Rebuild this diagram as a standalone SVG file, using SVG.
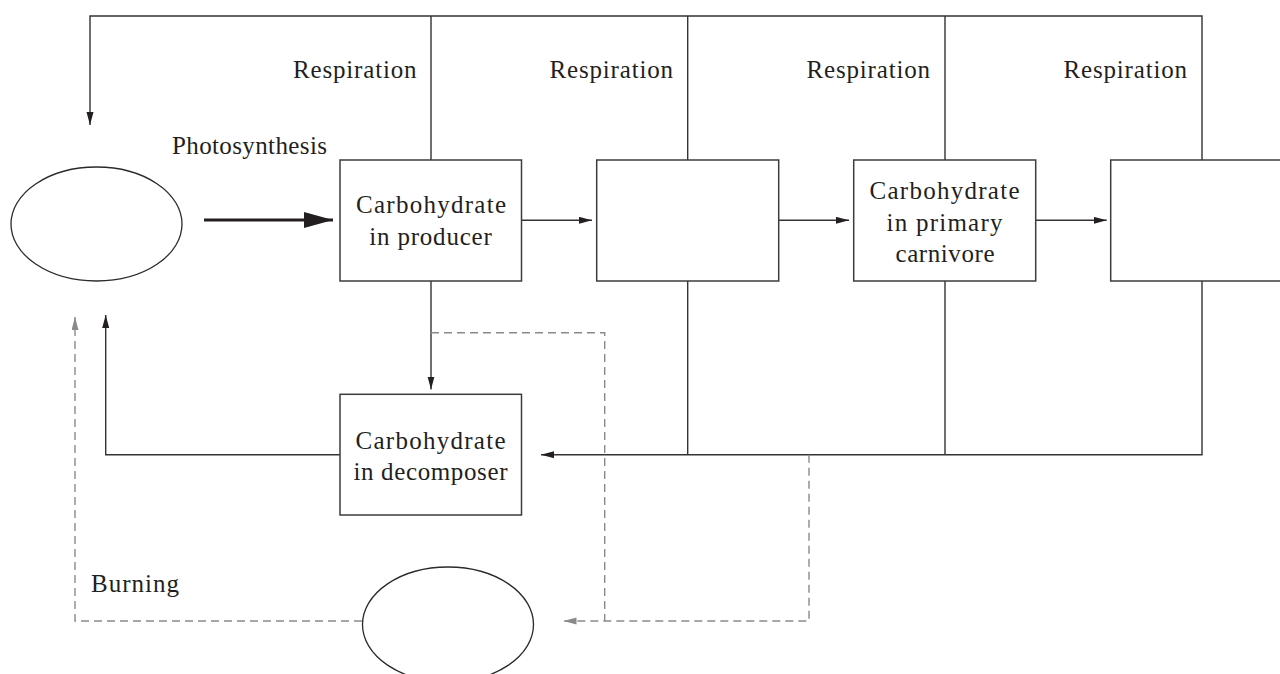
<svg xmlns="http://www.w3.org/2000/svg" width="1280" height="674" viewBox="0 0 1280 674">
  <defs>
    <style>
      .box { fill: #ffffff; stroke: #3c3c3c; stroke-width: 1.5; }
      .pool { fill: #ffffff; stroke: #2a2a2a; stroke-width: 1.3; }
      .line { fill: none; stroke: #333333; stroke-width: 1.4; }
      .thick { fill: none; stroke: #231f20; stroke-width: 3; }
      .dash { fill: none; stroke: #8a8a8a; stroke-width: 1.4; stroke-dasharray: 8 5; }
      .lbl { font-family: "Liberation Serif", "Times New Roman", serif; font-size: 25px; fill: #231f20; }
    </style>
    <marker id="arrow" markerUnits="userSpaceOnUse" markerWidth="14" markerHeight="8" refX="13" refY="3.5" orient="auto">
      <path d="M0,0 L13,3.5 L0,7 z" fill="#231f20"/>
    </marker>
    <marker id="arrowGrey" markerUnits="userSpaceOnUse" markerWidth="14" markerHeight="8" refX="13" refY="3.5" orient="auto">
      <path d="M0,0 L13,3.5 L0,7 z" fill="#8a8a8a"/>
    </marker>
    <marker id="arrowBig" markerUnits="userSpaceOnUse" markerWidth="30" markerHeight="17" refX="29" refY="8" orient="auto">
      <path d="M0,0 L29,8 L0,16 z" fill="#231f20"/>
    </marker>
  </defs>

  <!-- connectors -->
  <g id="connectors">
    <!-- respiration return along the top -->
    <path class="line" d="M1202,160 V16 H90 V125" marker-end="url(#arrow)"/>
    <path class="line" d="M431,160 V16"/>
    <path class="line" d="M687.7,160 V16"/>
    <path class="line" d="M945,160 V16"/>

    <!-- photosynthesis -->
    <path class="thick" d="M204,220 H333" marker-end="url(#arrowBig)"/>

    <!-- feeding chain -->
    <path class="line" d="M521.5,220.3 H592" marker-end="url(#arrow)"/>
    <path class="line" d="M779,220.3 H849" marker-end="url(#arrow)"/>
    <path class="line" d="M1036,220.3 H1106.7" marker-end="url(#arrow)"/>

    <!-- dead matter to decomposer -->
    <path class="line" d="M431,281 V389.5" marker-end="url(#arrow)"/>
    <path class="line" d="M1202,281 V454.7 H541" marker-end="url(#arrow)"/>
    <path class="line" d="M687.7,281 V454.7"/>
    <path class="line" d="M945,281 V454.7"/>

    <!-- decomposer respiration -->
    <path class="line" d="M340,454.7 H105.7 V315" marker-end="url(#arrow)"/>

    <!-- fossilisation (dashed) -->
    <path class="dash" d="M431,332.7 H604.7 V621"/>
    <path class="dash" d="M809,454.7 V621 H563.5" marker-end="url(#arrowGrey)"/>

    <!-- burning (dashed) -->
    <path class="dash" d="M362,621 H75 V317" marker-end="url(#arrowGrey)"/>
  </g>

  <!-- labels on connectors -->
  <g id="connector-labels">
    <text class="lbl" x="293" y="78.3" textLength="123.5" lengthAdjust="spacing">Respiration</text>
    <text class="lbl" x="549.5" y="78.3" textLength="123.5" lengthAdjust="spacing">Respiration</text>
    <text class="lbl" x="806.5" y="78.3" textLength="123.5" lengthAdjust="spacing">Respiration</text>
    <text class="lbl" x="1063.5" y="78.3" textLength="123.5" lengthAdjust="spacing">Respiration</text>
    <text class="lbl" x="172" y="153.5" textLength="155" lengthAdjust="spacing">Photosynthesis</text>
    <text class="lbl" x="91" y="591.7" textLength="88" lengthAdjust="spacing">Burning</text>
  </g>

  <!-- carbon dioxide in the air -->
  <g id="air">
    <ellipse class="pool" cx="96.5" cy="224" rx="85.5" ry="57"/>
  </g>

  <!-- producer -->
  <g id="producer">
    <rect class="box" x="340" y="160" width="181.5" height="121"/>
    <text class="lbl" x="356" y="213" textLength="150" lengthAdjust="spacing">Carbohydrate</text>
    <text class="lbl" x="369.3" y="245" textLength="122.5" lengthAdjust="spacing">in producer</text>
  </g>

  <!-- primary consumer -->
  <g id="primary-consumer">
    <rect class="box" x="596.7" y="160" width="182" height="121"/>
  </g>

  <!-- primary carnivore -->
  <g id="primary-carnivore">
    <rect class="box" x="853.7" y="160" width="182" height="121"/>
    <text class="lbl" x="869.5" y="199.3" textLength="150" lengthAdjust="spacing">Carbohydrate</text>
    <text class="lbl" x="886.5" y="231" textLength="116" lengthAdjust="spacing">in primary</text>
    <text class="lbl" x="895.5" y="262.3" textLength="99" lengthAdjust="spacing">carnivore</text>
  </g>

  <!-- secondary carnivore -->
  <g id="secondary-carnivore">
    <rect class="box" x="1110.7" y="160" width="182" height="121"/>
  </g>

  <!-- decomposer -->
  <g id="decomposer">
    <rect class="box" x="340" y="394.3" width="181.5" height="120.7"/>
    <text class="lbl" x="355.5" y="449.3" textLength="150" lengthAdjust="spacing">Carbohydrate</text>
    <text class="lbl" x="353.5" y="480" textLength="154" lengthAdjust="spacing">in decomposer</text>
  </g>

  <!-- fossil fuels -->
  <g id="fossil-fuels">
    <ellipse class="pool" cx="448" cy="624.5" rx="85.5" ry="57.5"/>
  </g>
</svg>
